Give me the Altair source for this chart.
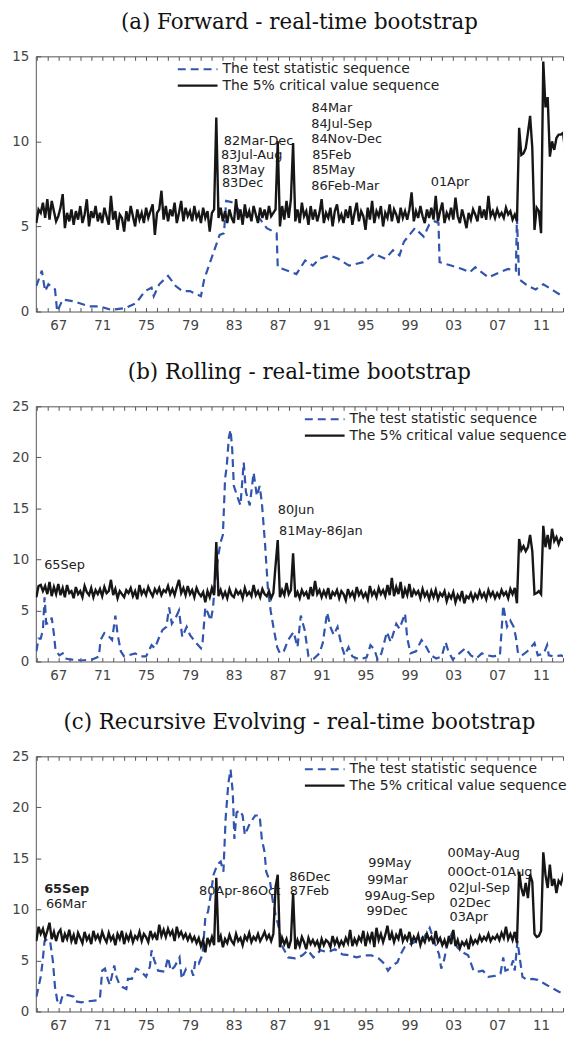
import altair as alt
import pandas as pd

TS_NAME = "The test statistic sequence"
CV_NAME = "The 5% critical value sequence"
BLUE = "#3154ad"
BLACK = "#161616"

titles = [
    "(a) Forward - real-time bootstrap",
    "(b) Rolling - real-time bootstrap",
    "(c) Recursive Evolving - real-time bootstrap",
]

year_ticks = list(range(1965, 2014))
year_labels = list(range(1967, 2012, 4))
x_domain = [1964.95, 2013.0]

# critical value sequences, one value every 0.2 year starting 1965.0
cv_start = 1965.0
cv_step = 0.2

a_cv = [
    5.2, 6.0, 5.8, 6.4, 5.5, 6.6, 5.4, 6.5, 5.9, 5.3,
    5.6, 6.1, 6.9, 4.9, 5.8, 5.3, 6.0, 5.1, 5.9, 5.4,
    6.2, 5.2, 5.7, 6.6, 5.0, 5.9, 5.5, 6.2, 5.3, 5.8,
    5.2, 6.1, 5.6, 5.1, 6.8, 5.4, 5.9, 4.8, 5.7, 5.5,
    4.7, 5.9, 5.3, 6.2, 5.6, 5.0, 6.0, 5.4, 5.8, 5.2,
    6.1, 5.5, 5.9, 6.3, 4.5, 5.8, 6.0, 7.1, 5.4, 6.2,
    5.3, 6.0, 5.6, 6.4, 5.2, 5.8, 6.5, 5.3, 6.1, 5.6,
    5.9, 5.3, 6.2, 5.5, 5.8, 5.2, 6.1, 5.5, 5.9, 4.7,
    5.8, 6.0, 11.4, 5.5, 6.1, 5.3, 5.9, 5.2, 6.0, 5.5,
    5.2, 6.6, 5.4, 6.0, 5.1, 6.3, 5.5, 5.9, 5.3, 6.2,
    5.7, 5.2, 6.1, 5.5, 6.0, 5.4, 6.2, 5.6, 5.8, 6.0,
    10.0, 5.0, 6.2, 5.4, 6.5, 5.5, 6.6, 9.9, 5.3, 6.0,
    5.2, 6.4, 5.6, 5.9, 5.1, 6.2, 5.4, 6.0, 5.3, 5.8,
    6.6, 5.2, 5.8, 5.5, 6.1, 5.0, 5.9, 6.3, 5.4, 5.7,
    5.2, 6.0, 5.5, 6.2, 5.1, 5.8, 6.4, 5.3, 5.9, 5.6,
    4.8, 6.1, 5.4, 6.5, 5.2, 5.9, 5.6, 6.2, 5.0, 5.8,
    5.5, 6.3, 5.3, 6.0, 5.7, 5.2, 6.1, 5.5, 5.9, 5.4,
    6.0, 7.0, 5.3, 5.9, 5.5, 6.2, 5.6, 5.2, 6.0, 5.5,
    6.1, 5.4, 6.8, 5.3, 5.9, 6.4, 5.2, 5.8, 5.5, 6.1,
    5.4, 6.7, 5.6, 5.2, 6.0, 5.5, 4.9, 5.8, 5.4, 6.0,
    5.7, 5.3, 6.2, 5.5, 6.0, 5.4, 6.8, 5.6, 5.9, 5.5,
    6.0, 5.6, 5.8, 5.5, 6.1, 5.7, 5.9, 5.4, 5.7, 5.3,
    10.8, 9.2, 9.3, 9.6, 10.5, 11.5, 9.6, 4.8, 6.1, 5.9,
    4.6, 14.7, 12.0, 12.6, 9.1, 10.0, 9.5, 10.2, 10.4, 10.4,
    10.5, 9.4, 10.4, 10.4,
]

b_cv = [
    6.3, 7.4, 7.5, 6.9, 7.4, 6.6, 7.8, 6.4, 7.3, 6.6,
    7.6, 6.5, 7.2, 6.3, 7.5, 6.7, 6.9, 6.2, 7.3, 6.6,
    6.9, 6.3, 7.4, 6.8, 6.5, 7.2, 6.3, 7.0, 6.6, 7.1,
    6.4, 7.3, 6.7, 6.9, 8.0, 6.5, 7.1, 6.2, 6.9, 6.6,
    6.3, 7.0, 6.7, 7.2, 6.4, 6.9, 6.1, 7.5, 6.6, 7.0,
    6.5, 7.3, 6.8, 6.4, 7.1, 6.7, 7.2, 6.5, 7.0, 6.8,
    7.4, 6.6, 7.1, 6.5, 7.3, 8.0, 6.7, 7.2, 6.5, 7.4,
    6.6, 7.0, 6.3, 7.2, 6.7, 6.4, 6.8, 5.8, 6.9, 6.3,
    7.2, 6.5, 11.7, 6.4, 7.0, 6.3, 6.8, 6.2, 7.1, 6.5,
    6.3, 7.0, 6.6, 6.9, 6.2, 7.2, 6.5, 6.8, 6.4, 7.5,
    6.5, 6.9, 6.3, 7.1, 6.6, 6.4, 6.9, 6.2, 6.7, 9.4,
    11.9, 6.3, 7.0, 6.5, 7.7, 6.6, 7.0, 10.6, 6.3, 6.8,
    6.2, 7.0, 6.5, 6.8, 6.1, 7.3, 6.4, 7.9, 6.6, 7.0,
    6.3, 6.9, 6.4, 7.2, 6.1, 6.8, 6.5, 7.0, 6.2, 6.9,
    6.6, 6.0, 7.1, 6.4, 6.8, 6.2, 7.3, 6.5, 6.9, 6.3,
    6.7, 6.1, 7.4, 6.5, 6.9, 6.3, 7.2, 6.6, 7.0, 6.4,
    7.5, 6.5, 8.2, 6.4, 7.3, 6.6, 7.8, 6.2, 7.1, 6.5,
    7.6, 6.3, 7.0, 6.6, 6.9, 6.2, 7.1, 6.4, 6.8, 6.1,
    6.9, 6.3, 7.0, 6.1, 6.7, 6.4, 6.9, 5.9, 6.6, 6.2,
    6.8, 5.8, 6.5, 6.1, 6.9, 5.7, 6.4, 6.2, 6.7, 6.0,
    6.6, 6.2, 6.9, 6.3, 6.7, 6.1, 7.0, 6.4, 6.8, 6.2,
    6.7, 6.3, 7.0, 6.5, 6.8, 6.2, 7.1, 6.6, 7.2, 5.7,
    12.0, 10.9, 11.3, 10.8, 11.2, 12.4, 10.8, 6.6, 6.7, 6.9,
    6.6, 13.3, 11.2, 12.4, 11.0, 13.0, 11.8, 12.2, 11.5, 12.1,
    11.9, 12.2, 10.6, 11.8,
]

c_cv = [
    6.9, 8.3, 7.6, 8.1, 7.2, 7.9, 8.7, 7.1, 7.8, 6.9,
    7.7, 8.0, 6.8, 7.6, 7.1, 8.0, 6.9, 7.5, 6.6, 7.7,
    7.2, 6.7, 7.8, 7.0, 7.4, 6.6, 7.9, 7.1, 7.5, 6.9,
    7.8, 7.2, 6.8, 7.7, 7.0, 7.4, 6.5, 7.6, 7.1, 7.9,
    6.6, 7.5, 7.0, 7.7, 6.8, 7.4, 7.1, 7.8, 6.9, 7.6,
    7.3, 6.8, 7.9, 7.2, 7.6, 7.0, 8.5, 7.4, 8.0, 7.3,
    8.1, 7.5, 7.9, 6.9, 8.3, 7.4, 7.8, 7.2, 7.6, 7.0,
    7.5, 6.9, 7.3, 6.7, 7.2, 6.4, 7.0, 5.8, 7.2, 6.6,
    7.3, 6.5, 13.1, 6.8, 7.4, 6.3, 7.1, 6.7, 7.5, 6.9,
    6.6, 7.6, 6.9, 7.2, 6.5, 7.4, 7.0, 7.7, 6.8, 7.3,
    7.0, 7.6, 6.9, 7.3, 7.8, 7.1, 7.5, 6.9, 7.6, 12.2,
    13.4, 6.3, 7.2, 6.6, 7.1, 6.2, 7.0, 11.6, 6.1, 7.0,
    6.4, 7.3, 6.8, 6.1, 7.2, 6.6, 7.0, 6.5, 6.9, 6.2,
    7.1, 6.5, 7.0, 6.8, 6.3, 7.4, 6.6, 7.1, 6.4, 6.9,
    6.5, 7.2, 6.7, 8.0, 6.4, 7.1, 6.6, 7.3, 6.9, 7.9,
    6.4, 7.5, 6.9, 7.8, 6.3, 8.2, 7.0, 7.6, 6.8, 7.5,
    8.4, 7.0, 7.7, 6.8, 7.5, 7.1, 8.1, 6.9, 7.4, 7.0,
    7.8, 6.7, 7.3, 6.9, 7.5, 6.5, 7.2, 6.8, 7.6, 7.0,
    7.3, 6.6, 7.9, 6.8, 7.2, 6.5, 7.0, 6.3, 7.4, 6.6,
    8.0, 6.4, 7.0, 6.2, 6.8, 6.5, 6.9, 6.1, 7.2, 6.6,
    7.0, 6.7, 7.4, 6.9, 7.3, 7.0, 7.6, 6.9, 7.3, 7.1,
    7.5, 7.0, 7.7, 7.2, 8.3, 7.1, 7.6, 7.0, 7.8, 6.7,
    13.7, 12.1, 11.3, 12.6, 11.1, 13.4, 12.7, 7.6, 7.3, 7.4,
    7.9, 15.6, 13.4, 12.1, 14.4, 12.3, 13.0, 11.6, 12.8, 12.5,
    13.3, 12.6, 11.5, 12.4,
]

# test statistic sequences (year, value)
a_ts = [
    (1965.0, 1.5), (1965.5, 2.4), (1965.8, 1.2), (1966.1, 1.6), (1966.5, 1.4),
    (1966.7, 1.3), (1966.9, 0.0), (1967.4, 0.7), (1968.4, 0.6), (1969.8, 0.3),
    (1970.8, 0.3), (1971.8, 0.1), (1973.1, 0.2), (1974.1, 0.5), (1974.9, 1.2),
    (1975.5, 1.4), (1975.7, 0.9), (1976.2, 1.6), (1977.0, 2.1), (1977.7, 1.5),
    (1978.3, 1.2), (1979.0, 1.2), (1980.0, 0.9), (1980.3, 1.9), (1981.0, 3.2),
    (1981.7, 4.5), (1982.1, 4.6), (1982.3, 6.5), (1983.0, 6.4), (1983.7, 5.7),
    (1984.5, 5.6), (1985.3, 5.5), (1986.0, 4.9), (1986.9, 4.6), (1987.0, 2.6),
    (1987.9, 2.4), (1988.7, 2.2), (1989.5, 3.0), (1990.2, 2.7), (1990.8, 3.1),
    (1991.7, 3.3), (1992.5, 3.1), (1993.5, 2.7), (1994.8, 2.9), (1995.8, 3.4),
    (1996.8, 3.1), (1997.5, 3.6), (1998.1, 3.3), (1998.5, 4.1), (1999.5, 4.9),
    (2000.3, 4.4), (2000.8, 5.1), (2001.3, 5.3), (2001.65, 5.2), (2001.75, 2.9),
    (2002.8, 2.7), (2003.8, 2.5), (2004.5, 2.3), (2005.0, 2.6), (2006.2, 2.0),
    (2007.2, 2.3), (2008.0, 2.5), (2008.7, 2.4), (2008.8, 5.5), (2009.0, 1.9),
    (2009.8, 1.5), (2010.5, 1.3), (2011.2, 1.6), (2012.2, 1.2), (2013.2, 0.8),
    (2013.7, 0.8),
]

b_ts = [
    (1965.0, 1.0), (1965.2, 2.25), (1965.4, 2.25), (1965.6, 3.1), (1965.75, 6.3),
    (1965.9, 3.7), (1966.25, 3.8), (1966.4, 4.3), (1966.6, 2.7), (1966.75, 1.1),
    (1967.1, 0.6), (1967.4, 0.8), (1967.6, 0.3), (1968.1, 0.2), (1969.1, 0.1),
    (1970.1, 0.2), (1970.7, 0.5), (1970.85, 2.1), (1971.2, 2.8), (1971.5, 2.6),
    (1971.9, 2.1), (1972.2, 4.5), (1972.4, 2.7), (1972.7, 1.0), (1973.0, 0.5),
    (1973.4, 0.6), (1974.0, 0.8), (1974.5, 0.5), (1975.0, 0.5), (1975.5, 1.6),
    (1975.8, 1.3), (1976.2, 2.4), (1976.5, 3.1), (1976.85, 3.4), (1977.1, 5.3),
    (1977.35, 3.7), (1977.7, 4.3), (1978.0, 5.0), (1978.3, 2.4), (1978.7, 3.4),
    (1979.0, 2.6), (1979.5, 1.9), (1980.0, 1.3), (1980.15, 1.9), (1980.4, 5.3),
    (1980.65, 4.7), (1980.9, 4.0), (1981.1, 5.3), (1981.3, 7.9), (1981.6, 10.5),
    (1981.8, 11.7), (1982.0, 12.4), (1982.2, 17.9), (1982.35, 19.1), (1982.55, 22.0),
    (1982.7, 22.7), (1982.85, 20.8), (1983.0, 17.2), (1983.3, 16.2), (1983.6, 15.3),
    (1983.9, 19.5), (1984.1, 16.6), (1984.45, 15.3), (1984.8, 18.5), (1985.1, 16.2),
    (1985.35, 17.2), (1985.55, 15.6), (1985.85, 11.4), (1986.1, 7.2), (1986.35, 5.0),
    (1986.6, 3.4), (1986.95, 1.4), (1987.2, 0.8), (1987.55, 1.0), (1987.95, 2.1),
    (1988.45, 2.9), (1988.8, 1.4), (1989.1, 4.5), (1989.45, 3.1), (1989.8, 0.5),
    (1990.3, 0.3), (1990.8, 0.8), (1991.1, 1.8), (1991.5, 4.8), (1991.8, 3.4),
    (1992.1, 2.6), (1992.45, 3.4), (1992.8, 1.6), (1993.1, 0.6), (1993.45, 1.4),
    (1993.8, 0.5), (1994.45, 0.2), (1995.1, 0.4), (1995.45, 1.6), (1995.8, 1.2),
    (1996.1, 0.2), (1996.45, 0.8), (1996.95, 2.9), (1997.3, 1.9), (1997.8, 3.7),
    (1998.1, 3.2), (1998.6, 4.7), (1998.8, 2.3), (1999.1, 0.8), (1999.6, 1.0),
    (2000.1, 2.1), (2000.45, 1.6), (2000.95, 0.6), (2001.45, 0.3), (2001.95, 0.5),
    (2002.3, 1.9), (2002.55, 1.0), (2002.95, 0.2), (2003.45, 0.7), (2004.1, 1.3),
    (2004.6, 0.6), (2005.1, 0.3), (2005.6, 0.8), (2006.1, 0.6), (2006.6, 0.5),
    (2007.25, 0.6), (2007.55, 5.5), (2007.9, 3.4), (2008.2, 4.0), (2008.5, 3.4),
    (2008.7, 2.4), (2008.9, 0.8), (2009.25, 0.6), (2009.75, 1.0), (2010.4, 1.8),
    (2010.7, 0.6), (2011.25, 0.8), (2011.55, 1.6), (2011.7, 0.6), (2012.2, 0.5),
    (2012.85, 0.6), (2013.3, 0.3), (2013.7, 0.2),
]

c_ts = [
    (1965.0, 1.45), (1965.2, 2.4), (1965.4, 3.4), (1965.55, 4.7), (1965.75, 6.9),
    (1966.0, 7.1), (1966.25, 6.9), (1966.5, 5.0), (1966.7, 2.4), (1966.9, 1.1),
    (1967.15, 0.65), (1967.4, 1.6), (1967.9, 1.6), (1968.4, 1.45), (1968.55, 1.0),
    (1969.1, 0.9), (1969.75, 1.0), (1970.6, 1.1), (1970.8, 1.3), (1971.0, 4.0),
    (1971.25, 4.2), (1971.5, 3.2), (1971.7, 2.6), (1972.1, 4.5), (1972.3, 3.4),
    (1972.55, 2.7), (1972.85, 2.4), (1973.2, 2.2), (1973.35, 3.2), (1973.7, 3.2),
    (1974.1, 4.2), (1974.5, 4.0), (1975.0, 3.4), (1975.35, 4.4), (1975.5, 6.0),
    (1975.75, 5.0), (1976.1, 4.0), (1976.7, 3.9), (1977.0, 5.3), (1977.25, 4.0),
    (1977.6, 4.4), (1978.05, 5.3), (1978.25, 3.2), (1978.65, 4.2), (1979.15, 4.0),
    (1979.3, 3.5), (1979.5, 5.0), (1979.8, 4.7), (1980.15, 5.6), (1980.4, 9.2),
    (1980.65, 9.8), (1980.9, 11.5), (1981.15, 13.4), (1981.5, 14.4), (1981.8, 14.7),
    (1982.05, 13.7), (1982.25, 18.9), (1982.5, 22.4), (1982.7, 23.7), (1982.9, 21.5),
    (1983.05, 16.9), (1983.25, 19.5), (1983.55, 19.7), (1983.8, 19.2), (1984.0, 17.3),
    (1984.45, 18.4), (1984.95, 19.2), (1985.35, 19.2), (1985.55, 16.9), (1985.8, 15.6),
    (1985.95, 13.7), (1986.3, 12.7), (1986.55, 10.8), (1986.8, 9.5), (1987.1, 8.2),
    (1987.45, 6.3), (1987.95, 5.3), (1988.6, 5.2), (1989.25, 5.5), (1989.75, 6.0),
    (1990.25, 5.3), (1990.9, 6.0), (1991.55, 5.8), (1992.2, 6.1), (1992.9, 5.6),
    (1993.55, 5.5), (1994.2, 5.3), (1994.9, 5.5), (1995.55, 5.5), (1996.2, 5.2),
    (1996.7, 4.7), (1997.05, 4.0), (1997.4, 4.5), (1997.9, 4.8), (1998.2, 5.6),
    (1998.55, 6.3), (1999.05, 6.6), (1999.7, 6.9), (2000.35, 7.3), (2000.85, 8.2),
    (2001.35, 6.6), (2001.7, 5.6), (2001.9, 4.2), (2002.15, 5.0), (2002.45, 6.6),
    (2002.85, 7.6), (2003.35, 6.3), (2003.85, 5.8), (2004.35, 5.5), (2004.85, 4.0),
    (2005.2, 3.9), (2005.7, 4.0), (2006.2, 3.4), (2006.85, 3.5), (2007.3, 3.7),
    (2007.55, 5.3), (2007.75, 4.0), (2008.2, 4.2), (2008.45, 5.0), (2008.6, 4.0),
    (2008.85, 6.9), (2009.05, 5.3), (2009.3, 3.4), (2009.7, 3.1), (2010.2, 3.2),
    (2010.7, 3.1), (2011.35, 2.7), (2012.0, 2.3), (2012.7, 1.9), (2013.7, 1.7),
]

# date annotations (label, year, value)
a_ann = [
    ("84Mar", 1990.08, 11.96), ("84Jul-Sep", 1990.05, 11.0), ("84Nov-Dec", 1990.05, 10.16),
    ("82Mar-Dec", 1982.09, 10.0), ("83Jul-Aug", 1981.82, 9.19), ("85Feb", 1990.14, 9.19),
    ("83May", 1981.91, 8.33), ("85May", 1990.14, 8.33), ("83Dec", 1981.91, 7.56),
    ("86Feb-Mar", 1990.05, 7.36), ("01Apr", 2000.94, 7.64),
]
b_ann = [
    ("65Sep", 1965.71, 9.49), ("80Jun", 1987.01, 14.8), ("81May-86Jan", 1987.11, 12.77),
]
c_ann = [
    ("66Mar", 1965.87, 10.48), ("80Apr-86Oct", 1979.82, 11.77), ("86Dec", 1988.04, 13.16),
    ("87Feb", 1988.1, 11.77), ("99May", 1995.25, 14.58), ("99Mar", 1995.15, 12.9),
    ("99Aug-Sep", 1994.91, 11.35), ("99Dec", 1995.08, 9.84), ("00May-Aug", 2002.48, 15.48),
    ("00Oct-01Aug", 2002.48, 13.65), ("02Jul-Sep", 2002.61, 12.1), ("02Dec", 2002.65, 10.65),
    ("03Apr", 2002.65, 9.26),
]
c_ann_bold = [("65Sep", 1965.71, 12.03)]

AXIS_GRAY = "#555555"
LABEL_GRAY = "#444444"
SANS = "DejaVu Sans"
PLOT_W = 531


def panel(title, ts, cv_vals, ymax, yvals, ann, legend_x, height, bold_ann=None):
    ts_df = pd.DataFrame(ts, columns=["year", "value"]).assign(series=TS_NAME)
    cv_df = pd.DataFrame({
        "year": [round(cv_start + cv_step * i, 3) for i in range(len(cv_vals))],
        "value": cv_vals,
    }).assign(series=CV_NAME)
    ann_df = pd.DataFrame(ann, columns=["label", "year", "value"])

    xs = alt.Scale(domain=x_domain, nice=False, zero=False)
    ys = alt.Scale(domain=[0, ymax], nice=False, zero=False)

    legend = alt.Legend(
        orient="none", legendX=legend_x, legendY=6, title=None,
        symbolType="M-4,0H4", symbolSize=100, symbolStrokeWidth=2.2,
        labelFont=SANS, labelFontSize=14, labelColor="#222222", labelLimit=400,
        labelOffset=18, rowPadding=2.5, padding=0,
    )
    color = alt.Color("series:N", scale=alt.Scale(domain=[TS_NAME, CV_NAME], range=[BLUE, BLACK]), legend=legend)
    dash = alt.StrokeDash("series:N", scale=alt.Scale(domain=[TS_NAME, CV_NAME], range=[[8, 5], [1, 0]]), legend=legend)

    x_main = alt.X("year:Q", scale=xs, axis=alt.Axis(
        orient="bottom", values=year_labels, labelExpr="substring(toString(datum.value), 2, 4)",
        ticks=False, domain=True, domainColor=AXIS_GRAY, grid=False, title=None,
        labelFont=SANS, labelFontSize=13.5, labelColor=LABEL_GRAY, labelPadding=7))
    y_main = alt.Y("value:Q", scale=ys, axis=alt.Axis(
        orient="left", values=yvals, ticks=False, domain=True, domainColor=AXIS_GRAY,
        grid=False, title=None, labelFont=SANS, labelFontSize=13.5, labelColor=LABEL_GRAY,
        labelPadding=7))

    x_none = alt.X("year:Q", scale=xs, axis=None)
    y_none = alt.Y("value:Q", scale=ys, axis=None)

    text_layer = alt.Chart(ann_df).mark_text(
        align="left", baseline="middle", font=SANS, fontSize=13, color="#222222"
    ).encode(x=x_none, y=y_none, text="label:N")
    layers = [text_layer]
    if bold_ann:
        bdf = pd.DataFrame(bold_ann, columns=["label", "year", "value"])
        layers.append(alt.Chart(bdf).mark_text(
            align="left", baseline="middle", font=SANS, fontSize=13, fontWeight="bold", color="#222222"
        ).encode(x=x_none, y=y_none, text="label:N"))

    blue = alt.Chart(ts_df).mark_line(strokeWidth=2.2, clip=True).encode(
        x=x_main, y=y_main, color=color, strokeDash=dash)
    black = alt.Chart(cv_df).mark_line(strokeWidth=2.4, clip=True).encode(
        x=x_none, y=y_none, color=color, strokeDash=dash)

    guide_src = alt.Chart(ann_df).mark_point(opacity=0, size=1, clip=True)
    top_border = guide_src.encode(
        x=alt.X("year:Q", scale=xs, axis=alt.Axis(
            orient="top", labels=False, ticks=False, domain=True, domainColor=AXIS_GRAY,
            grid=False, title=None)),
        y=y_none)
    in_ticks_bottom = guide_src.encode(
        x=alt.X("year:Q", scale=xs, axis=alt.Axis(
            orient="bottom", values=year_ticks, labels=False, ticks=True, tickSize=4,
            offset=-4, domain=False, tickColor=AXIS_GRAY, grid=False, title=None)),
        y=alt.Y("value:Q", scale=ys, axis=alt.Axis(
            orient="left", values=yvals, labels=False, ticks=True, tickSize=5,
            offset=-5, domain=False, tickColor=AXIS_GRAY, grid=False, title=None)))
    in_ticks_top = guide_src.encode(
        x=alt.X("year:Q", scale=xs, axis=alt.Axis(
            orient="top", values=year_ticks, labels=False, ticks=True, tickSize=4,
            offset=-4, domain=False, tickColor=AXIS_GRAY, grid=False, title=None)),
        y=y_none)

    layers += [blue, black, top_border, in_ticks_bottom, in_ticks_top]
    return alt.layer(*layers).resolve_axis(x="independent", y="independent").properties(
        width=PLOT_W, height=height,
        title=alt.TitleParams(text=title, font="DejaVu Serif", fontSize=21.5, fontWeight="normal",
                              color="#111111", anchor="middle", offset=16),
    )


pa = panel(titles[0], a_ts, a_cv, 15, [0, 5, 10, 15], a_ann, 156, 257)
pb = panel(titles[1], b_ts, b_cv, 25, [0, 5, 10, 15, 20, 25], b_ann, 284, 257)
pc = panel(titles[2], c_ts, c_cv, 25, [0, 5, 10, 15, 20, 25], c_ann, 284, 257, bold_ann=c_ann_bold)

chart = alt.vconcat(pa, pb, pc, spacing=29.5).resolve_scale(
    color="independent", strokeDash="independent"
).resolve_legend(
    color="independent", strokeDash="independent"
).properties(
    padding={"left": 3, "top": 0, "right": 0, "bottom": 0}
).configure_view(stroke=None)

chart.save("out.html", embed_options={"renderer": "svg", "actions": False})
